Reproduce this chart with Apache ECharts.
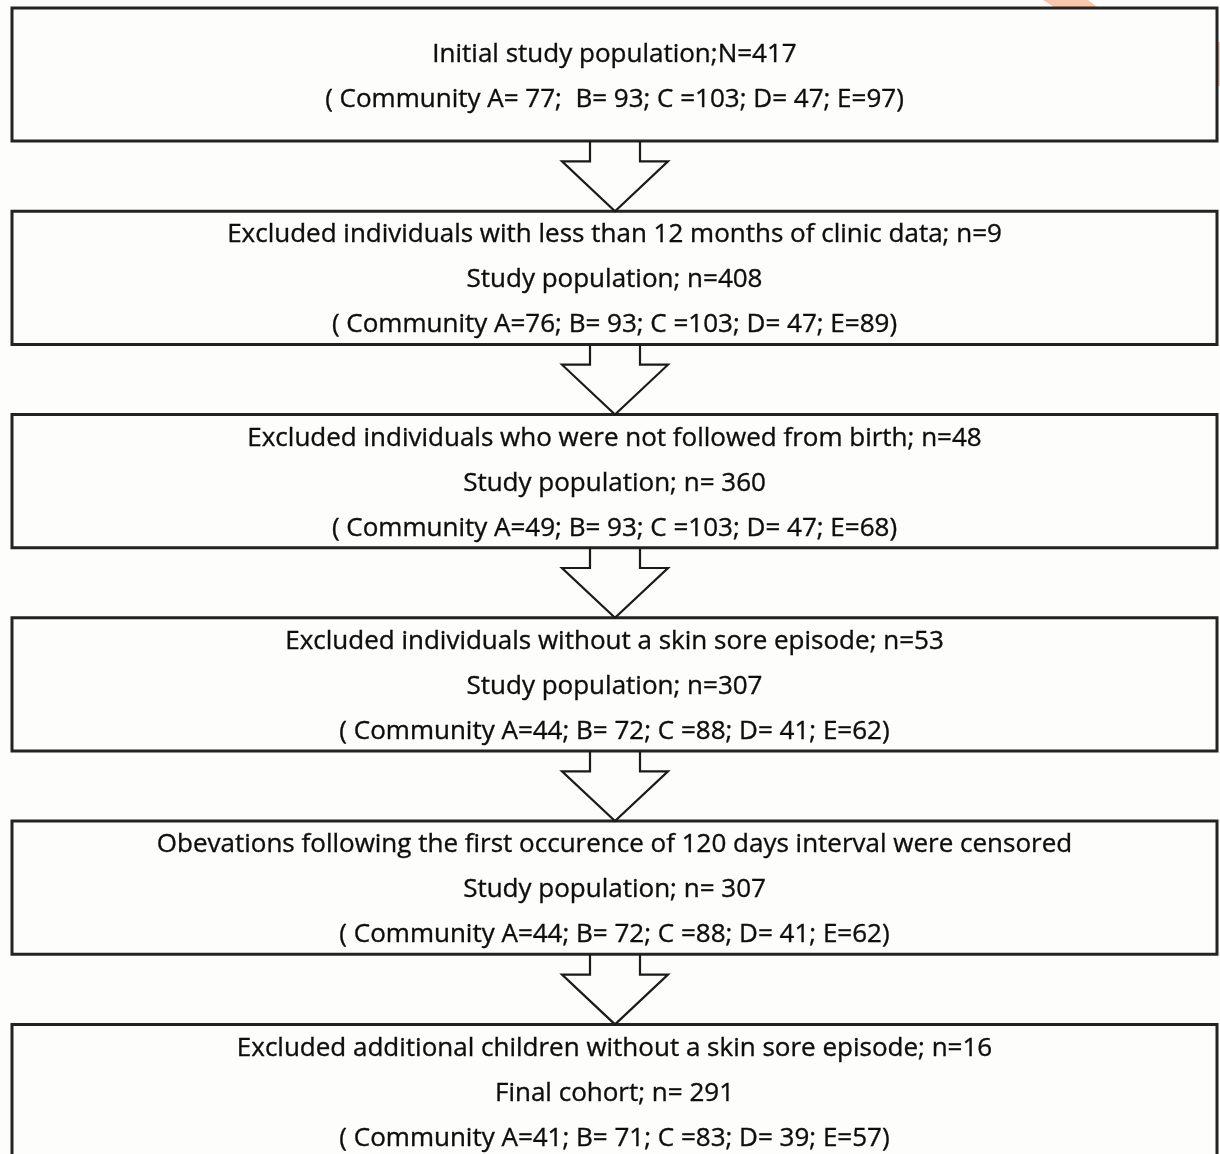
<!DOCTYPE html>
<html>
<head>
<meta charset="utf-8">
<script src="https://cdn.jsdelivr.net/npm/echarts@6/dist/echarts.min.js"></script>
<style>
html,body{margin:0;padding:0;background:#fdfdfb;}
#chart{width:1220px;height:1154px;}
</style>
</head>
<body>
<div id="chart"></div>
<script>
// ---- Flowchart content (one entry per step) ----
const headings = [
  "Initial study population;N=417",
  "Excluded individuals with less than 12 months of clinic data; n=9",
  "Excluded individuals who were not followed from birth; n=48",
  "Excluded individuals without a skin sore episode; n=53",
  "Obevations following the first occurence of 120 days interval were censored",
  "Excluded additional children without a skin sore episode; n=16"
];
const populationLines = [
  "",
  "Study population; n=408",
  "Study population; n= 360",
  "Study population; n=307",
  "Study population; n= 307",
  "Final cohort; n= 291"
];
const communityLines = [
  "( Community A= 77;  B= 93; C =103; D= 47; E=97)",
  "( Community A=76; B= 93; C =103; D= 47; E=89)",
  "( Community A=49; B= 93; C =103; D= 47; E=68)",
  "( Community A=44; B= 72; C =88; D= 41; E=62)",
  "( Community A=44; B= 72; C =88; D= 41; E=62)",
  "( Community A=41; B= 71; C =83; D= 39; E=57)"
];
const stepIndex = [0, 1, 2, 3, 4, 5];

// ---- styling ----
const FONT_FAMILY = "'Open Sans', sans-serif";
const BOX_RATIO = 0.655;   // box height / step pitch
const LINE_GAP = 0.2214;   // text line spacing in step units
const TEXT_SHIFT = 0.011;  // small downward shift of text block (step units)

// choose font size so the widest line spans ~916px like the reference
const cv = document.createElement('canvas').getContext('2d');
cv.font = "100px " + FONT_FAMILY;
const w100 = cv.measureText(headings[4]).width;
const FONT_SIZE = Math.round(916 / w100 * 100 * 10) / 10;
const FONT = FONT_SIZE + "px " + FONT_FAMILY;

const chart = echarts.init(document.getElementById('chart'), null, {renderer: 'canvas'});

function renderItem(params, api) {
  const i = api.value(1);
  const c = api.coord([0.5, i]);
  const w = api.size([1, 0])[0];
  const pitch = api.size([0, 1])[1];
  const h = pitch * BOX_RATIO;
  const gap = pitch * LINE_GAP;
  const shift = pitch * TEXT_SHIFT;
  const children = [];
  children.push({
    type: 'rect',
    shape: {x: c[0] - w / 2, y: c[1] - h / 2, width: w, height: h},
    style: {fill: '#fdfdfb', stroke: '#232323', lineWidth: 3}
  });
  const lines = [headings[i], populationLines[i], communityLines[i]].filter(s => s);
  lines.forEach((t, k) => {
    children.push({
      type: 'text',
      style: {
        text: t, x: c[0], y: c[1] + shift + (k - (lines.length - 1) / 2) * gap,
        align: 'center', verticalAlign: 'middle',
        font: FONT, fill: '#0d0d0d', stroke: '#0d0d0d', lineWidth: 0.35
      }
    });
  });
  if (i < headings.length - 1) {
    const top = c[1] + h / 2;
    const tip = c[1] + pitch - h / 2;
    const headTop = top + 0.1 * pitch;
    const sw = 25, hw = 53, cx = c[0] + 0.5;
    children.push({
      type: 'polyline',
      z2: 5,
      shape: {points: [
        [cx - sw, top], [cx - sw, headTop], [cx - hw, headTop], [cx, tip],
        [cx + hw, headTop], [cx + sw, headTop], [cx + sw, top]
      ]},
      style: {stroke: '#1a1a1a', lineWidth: 2.2, fill: null}
    });
  }
  return {type: 'group', children};
}

chart.setOption({
  animation: false,
  backgroundColor: '#fdfdfb',
  graphic: [
    {type: 'polygon', z: -10, silent: true,
     shape: {points: [[1043, 0], [1088, 0], [1104, 12], [1062, 12]]},
     style: {fill: '#f8c6ad'}},
    {type: 'rect', z: -10, silent: true,
     shape: {x: 1214, y: 42, width: 6, height: 44},
     style: {fill: '#f8c6ad'}}
  ],
  grid: {left: 12, right: 3, top: 0, bottom: 0},
  xAxis: {type: 'value', min: 0, max: 1, show: false},
  yAxis: {type: 'value', inverse: true, min: -0.3665, max: 5.310, show: false},
  series: [{
    type: 'custom',
    coordinateSystem: 'cartesian2d',
    clip: false,
    z: 2,
    renderItem: renderItem,
    data: stepIndex.map(i => [0.5, i])
  }]
});
</script>
</body>
</html>
